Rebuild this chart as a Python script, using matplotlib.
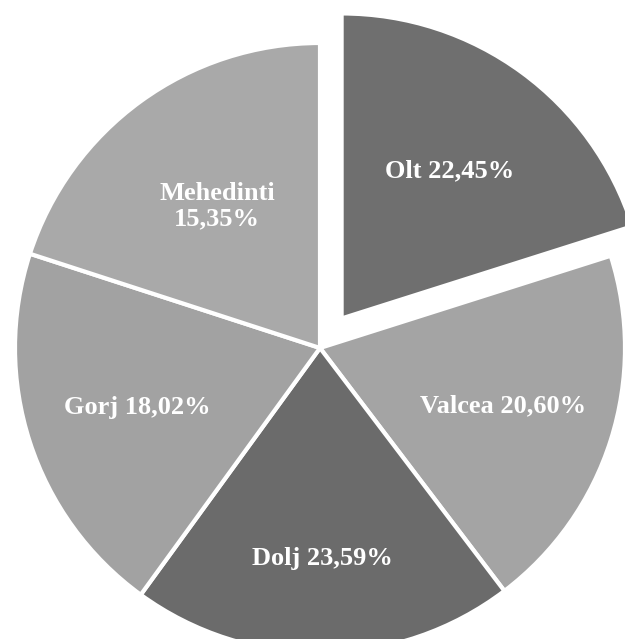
import numpy as np
import matplotlib
matplotlib.use("Agg")
import matplotlib.pyplot as plt

# slices as drawn (angular share) and their printed labels
regions = ["Olt", "Valcea", "Dolj", "Gorj", "Mehedinti"]
slice_sizes = [72.4, 70.4, 73.2, 72.0, 72.0]
label_text = ["Olt 22,45%", "Valcea 20,60%", "Dolj 23,59%", "Gorj 18,02%", "Mehedinti\n15,35%"]
explode = [0.12, 0, 0, 0, 0]

colors = ["#6f6f6f", "#a4a4a4", "#6b6b6b", "#a2a2a2", "#a9a9a9"]
label_r = [0.60, 0.63, 0.69, 0.63, 0.575]

fig = plt.figure(figsize=(6.25, 6.39), dpi=100)
ax = fig.add_axes([0, 0, 1, 1])

wedges, _ = ax.pie(slice_sizes, explode=explode, colors=colors, startangle=90,
                   counterclock=False, radius=1.0,
                   wedgeprops=dict(edgecolor="white", linewidth=3))

for w, txt, d in zip(wedges, label_text, label_r):
    mid = np.deg2rad((w.theta1 + w.theta2) / 2)
    cx, cy = w.center
    ax.text(cx + d * np.cos(mid), cy + d * np.sin(mid), txt,
            ha="center", va="center", color="white", fontsize=19,
            fontweight="bold", family="Liberation Serif", linespacing=1.15)

ax.set_aspect("equal")
ax.set_xlim(-320 / 305, 305 / 305)
ax.set_ylim(-291 / 305, 348 / 305)
ax.axis("off")

fig.savefig("out.png", dpi=100, facecolor="white")
